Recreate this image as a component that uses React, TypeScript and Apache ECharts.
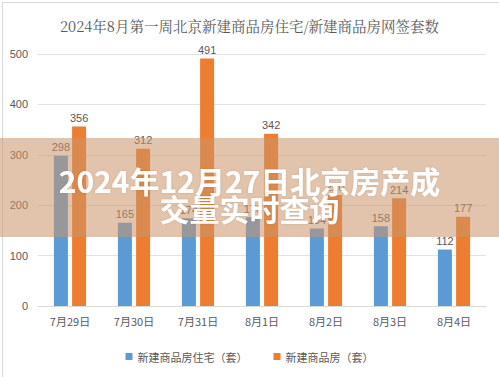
import React, { useEffect, useRef } from "react";
import * as echarts from "echarts";

const categories = ["7月29日", "7月30日", "7月31日", "8月1日", "8月2日", "8月3日", "8月4日"];
const residential = [298, 165, 174, 176, 154, 158, 112];
const commercial = [356, 312, 491, 342, 220, 214, 177];
const yTicks = [0, 100, 200, 300, 400, 500];
const titleText = "2024年8月第一周北京新建商品房住宅/新建商品房网签套数";
const seriesNames = ["新建商品房住宅（套）", "新建商品房（套）"];
const overlayLines = ["2024年12月27日北京房产成", "交量实时查询"];

export default function App() {
  const ref = useRef<HTMLDivElement>(null);
  useEffect(() => {
    if (!ref.current) return;
    const chart = echarts.init(ref.current, null, { renderer: "svg" });
    const labelStyle = {
      show: true,
      position: "top" as const,
      color: "#595959",
      fontSize: 11,
      fontFamily: "Liberation Sans, Arial, sans-serif",
      distance: 3,
    };
    chart.setOption({
      animation: false,
      backgroundColor: "#ffffff",
      title: {
        text: titleText,
        left: "center",
        top: 13,
        textStyle: {
          fontFamily: "'Noto Serif CJK SC', 'AR PL UMing CN', serif",
          fontWeight: "normal",
          fontSize: 14.5,
          color: "#595959",
        },
      },
      legend: {
        bottom: 10,
        left: "center",
        itemWidth: 7,
        itemHeight: 7,
        itemGap: 26,
        icon: "rect",
        textStyle: { color: "#595959", fontSize: 11, fontFamily: "'Noto Sans CJK SC', sans-serif" },
        data: seriesNames,
      },
      grid: { left: 38, right: 13, top: 54, bottom: 71, containLabel: false },
      xAxis: {
        type: "category",
        data: categories,
        axisLine: { lineStyle: { color: "#d9d9d9" } },
        axisTick: { show: false },
        axisLabel: { color: "#595959", fontSize: 11, margin: 9, fontFamily: "'Noto Sans CJK SC', sans-serif" },
      },
      yAxis: {
        type: "value",
        min: yTicks[0],
        max: yTicks[yTicks.length - 1],
        interval: 100,
        axisLine: { show: false },
        axisTick: { show: false },
        splitLine: { lineStyle: { color: "#e3e3e3" } },
        axisLabel: { color: "#595959", fontSize: 11, margin: 10, fontFamily: "Liberation Sans, Arial, sans-serif" },
      },
      series: [
        {
          name: seriesNames[0],
          type: "bar",
          data: residential,
          barWidth: 14,
          barGap: "30%",
          itemStyle: { color: "#5b9bd5" },
          label: labelStyle,
        },
        {
          name: seriesNames[1],
          type: "bar",
          data: commercial,
          barWidth: 14,
          itemStyle: { color: "#ed7d31" },
          label: labelStyle,
        },
      ],
      graphic: [
        {
          type: "rect",
          left: 0,
          top: 0,
          shape: { x: 0, y: 0, width: 498, height: 376 },
          style: { fill: "none", stroke: "#d9d9d9", lineWidth: 1 },
          z: 0,
          silent: true,
        },
        {
          type: "rect",
          left: 0,
          top: 138,
          shape: { width: 499, height: 99 },
          style: { fill: "rgba(202,148,104,0.55)" },
          z: 100,
          silent: true,
        },
        {
          type: "text",
          left: "center",
          top: 165,
          style: {
            text: overlayLines[0],
            fill: "#ffffff",
            fontSize: 30,
            fontWeight: "bold",
            fontFamily: "'Noto Sans CJK SC', sans-serif",
            textShadowColor: "rgba(0,0,0,0.12)",
            textShadowBlur: 2,
          },
          z: 101,
        },
        {
          type: "text",
          left: "center",
          top: 193,
          style: {
            text: overlayLines[1],
            fill: "#ffffff",
            fontSize: 30,
            fontWeight: "bold",
            fontFamily: "'Noto Sans CJK SC', sans-serif",
            textShadowColor: "rgba(0,0,0,0.12)",
            textShadowBlur: 2,
          },
          z: 101,
        },
      ],
    });
    return () => chart.dispose();
  }, []);
  return (
    <div
      ref={ref}
      style={{ position: "fixed", left: 0, top: 0, width: 499, height: 377 }}
    />
  );
}
